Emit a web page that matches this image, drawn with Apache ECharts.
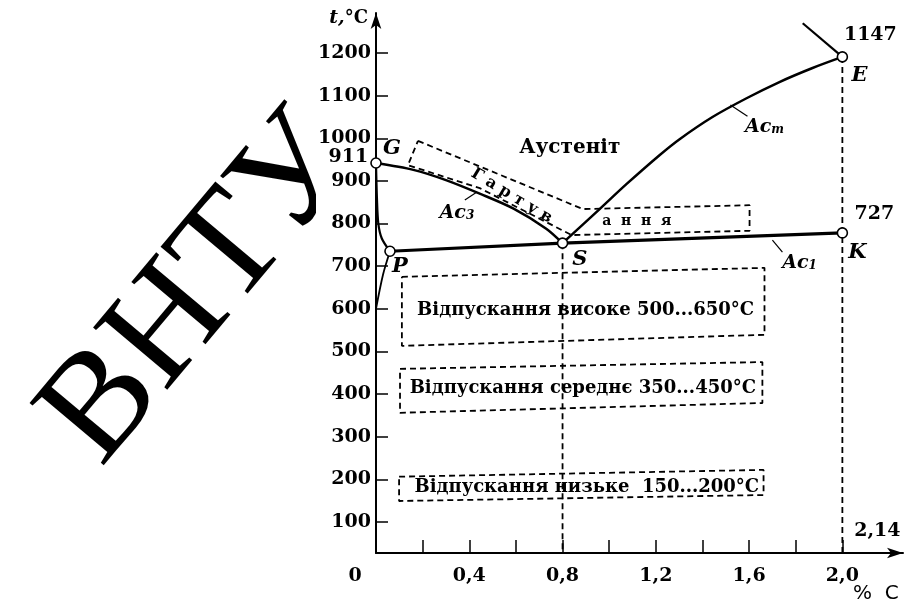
<!DOCTYPE html>
<html>
<head>
<meta charset="utf-8">
<script src="https://cdn.jsdelivr.net/npm/echarts@6/dist/echarts.min.js"></script>
<style>
  html, body { margin: 0; padding: 0; background: #fff; }
  #chart { width: 905px; height: 605px; }
</style>
</head>
<body>
<div id="chart"></div>
<script>
// scale of the scanned figure (x axis sits a bit above 0 °C)
const xMin = 0, xMax = 2.26;
const yMin = 27, yMax = 1294;
const yTicks = [100, 200, 300, 400, 500, 600, 700, 800, 900, 1000, 1100, 1200];
const xTicks = [0.2, 0.4, 0.6, 0.8, 1.0, 1.2, 1.4, 1.6, 1.8, 2.0];
const xLabels = [0, 0.4, 0.8, 1.2, 1.6, 2.0];

// phase lines [%C, t]
const lineGS = [[0, 942], [0.16, 926], [0.30, 902], [0.45, 869], [0.59, 835], [0.73, 788], [0.8, 754]];
const lineSE = [[0.8, 754], [0.959, 834], [1.075, 893], [1.217, 961], [1.302, 998], [1.443, 1050], [1.589, 1094], [1.730, 1132], [1.872, 1165], [2.0, 1191]];
const lineEC = [[2.0, 1191], [1.83, 1270]];
const linePSK = [[0.06, 735], [0.8, 754], [2.0, 778]];
const lineGP = [[0, 942], [0.004, 860], [0.01, 800], [0.025, 765], [0.06, 735]];
const linePQ = [[0.06, 735], [0.03, 680], [0, 600]];

// dashed helpers
const dropS = [[0.8, 754], [0.8, yMin]];
const dropE = [[2.0, 1191], [2.0, yMin]];
const zoneHard = [[0.18, 994], [0.887, 834], [1.602, 843], [1.602, 783], [0.839, 773], [0.445, 883], [0.137, 937], [0.18, 994]];
const zoneHigh = [[0.111, 675], [1.666, 696], [1.666, 539], [0.111, 513], [0.111, 675]];
const zoneMid = [[0.103, 459], [1.657, 475], [1.657, 379], [0.103, 356], [0.103, 459]];
const zoneLow = [[0.099, 206], [1.662, 222], [1.662, 163], [0.099, 149], [0.099, 206]];

// little leader strokes of Ac labels
const tickAc3 = [[0.381, 855], [0.433, 874]];
const tickAcm = [[1.520, 1078], [1.593, 1052]];
const tickAc1 = [[1.700, 761], [1.743, 733]];

// key points
const points = [['G', 0, 942], ['P', 0.06, 735], ['S', 0.8, 754], ['E', 2.0, 1191], ['K', 2.0, 778]];

// labels  [%C, t, text]
const letterNotes = [[0.069, 977, 'G'], [0.103, 700, 'P'], [0.874, 715, 'S'], [2.073, 1148, 'E'], [2.064, 733, 'K']];
const numNotes = [[2.12, 1242, '1147'], [2.137, 822, '727'], [2.15, 79, '2,14']];
const acNotes = [[0.347, 836, '3'], [1.666, 1038, 'm'], [1.816, 719, '1']];
const temperNotes = [
  [0.899, 597, 'Відпускання високе 500...650°C'],
  [0.887, 414, 'Відпускання середнє 350...450°C'],
  [0.904, 182, 'Відпускання низьке  150...200°C']
];
const phaseNote = [0.831, 977, 'Аустеніт'];
const hardNote1 = [0.582, 865, 'Г а р т у в'];
const hardNote2 = [1.118, 806, 'а  н  н  я'];

const serif = 'DejaVu Serif';

function solid(data, width, smooth) {
  return {
    type: 'line', data: data, smooth: smooth ? 0.3 : false, showSymbol: false, silent: true,
    lineStyle: { color: '#000', width: width }, z: 3
  };
}
function dashed(data) {
  return {
    type: 'line', data: data, showSymbol: false, silent: true,
    lineStyle: { color: '#000', width: 1.8, type: [6, 4] }, z: 2
  };
}
function textItems(list, style) {
  return list.map(function (n) {
    return { value: [n[0], n[1]], label: Object.assign({ formatter: n[2], color: '#000' }, style) };
  });
}

const chart = echarts.init(document.getElementById('chart'));

const option = {
  animation: false,
  backgroundColor: '#fff',
  grid: { left: 376, right: 2, top: 13, bottom: 52, outerBoundsMode: 'none' },
  graphic: [
    {
      type: 'text', z: -10, x: 200, y: 290, rotation: 50 * Math.PI / 180,
      style: { text: 'ВНТУ', font: 'normal 148px "Liberation Serif"', fill: '#000', align: 'center', verticalAlign: 'middle' }
    },
    { type: 'rect', z: -5, shape: { x: 316, y: 0, width: 600, height: 605 }, style: { fill: '#fff' } }
  ],
  xAxis: {
    type: 'value', min: xMin, max: xMax,
    name: '%  C', nameLocation: 'end', nameGap: -50, nameMoveOverlap: false,
    nameTextStyle: { fontFamily: 'DejaVu Sans', fontSize: 20, color: '#000', align: 'left', verticalAlign: 'top', padding: [31, 0, 0, 0] },
    axisLine: { lineStyle: { color: '#000', width: 2 }, symbol: ['none', 'arrow'], symbolSize: [8, 16] },
    axisTick: { inside: true, length: 13, lineStyle: { color: '#000', width: 1.5 }, customValues: xTicks },
    axisLabel: {
      customValues: xLabels, margin: 14, color: '#000',
      fontFamily: serif, fontWeight: 'bold', fontSize: 19,
      formatter: function (v) { return v === 0 ? '{o|0}' : v.toFixed(1).replace('.', ','); },
      rich: { o: { fontFamily: serif, fontWeight: 'bold', fontSize: 19, color: '#000', padding: [0, 42, 0, 0] } }
    },
    splitLine: { show: false }
  },
  yAxis: {
    type: 'value', min: yMin, max: yMax,
    name: '{t|t,}{c|°C}', nameLocation: 'end', nameGap: -15, nameMoveOverlap: false,
    nameTextStyle: {
      align: 'right', padding: [0, 8, 0, 0],
      rich: {
        t: { fontFamily: serif, fontStyle: 'italic', fontWeight: 'bold', fontSize: 19, color: '#000' },
        c: { fontFamily: serif, fontWeight: 'bold', fontSize: 18, color: '#000' }
      }
    },
    axisLine: { lineStyle: { color: '#000', width: 2 }, symbol: ['none', 'arrow'], symbolSize: [8, 16] },
    axisTick: { inside: true, length: 12, lineStyle: { color: '#000', width: 1.5 }, customValues: yTicks },
    axisLabel: {
      customValues: yTicks, margin: 5, color: '#000', fontFamily: serif, fontWeight: 'bold', fontSize: 19,
      formatter: function (v) { return String(v); }
    },
    splitLine: { show: false }
  },
  series: [
    solid(lineGS, 2.5, true),
    solid(lineSE, 2.5, true),
    solid(lineEC, 2.2, false),
    solid(linePSK, 3.2, false),
    solid(lineGP, 2.2, true),
    solid(linePQ, 1.8, true),
    dashed(dropS), dashed(dropE),
    dashed(zoneHard), dashed(zoneHigh), dashed(zoneMid), dashed(zoneLow),
    solid(tickAc3, 1.2, false), solid(tickAcm, 1.2, false), solid(tickAc1, 1.2, false),
    {
      type: 'scatter', silent: true, z: 5,
      symbol: 'circle', symbolSize: 10,
      itemStyle: { color: '#fff', borderColor: '#000', borderWidth: 1.6, opacity: 1 },
      data: points.map(function (p) {
        const item = { value: [p[1], p[2]] };
        if (p[0] === 'G') {
          item.label = { show: true, position: 'left', distance: 2, offset: [0, -6], formatter: '911',
            fontFamily: serif, fontWeight: 'bold', fontSize: 19, color: '#000' };
        }
        return item;
      })
    },
    {
      type: 'scatter', silent: true, z: 6, symbolSize: 0,
      itemStyle: { color: 'transparent', opacity: 1 },
      label: { show: true, position: 'inside', color: '#000' },
      data: []
        .concat(textItems(letterNotes, { fontFamily: serif, fontStyle: 'italic', fontWeight: 'bold', fontSize: 21 }))
        .concat(textItems(numNotes, { fontFamily: serif, fontWeight: 'bold', fontSize: 19 }))
        .concat(textItems(temperNotes, { fontFamily: serif, fontWeight: 'bold', fontSize: 18 }))
        .concat(textItems([phaseNote], { fontFamily: serif, fontWeight: 'bold', fontSize: 20 }))
        .concat(textItems([hardNote1], { fontFamily: serif, fontWeight: 'bold', fontSize: 16, rotate: -31 }))
        .concat(textItems([hardNote2], { fontFamily: serif, fontWeight: 'bold', fontSize: 14 }))
        .concat(acNotes.map(function (n) {
          return {
            value: [n[0], n[1]],
            label: {
              formatter: '{a|Ac}{s|' + n[2] + '}',
              rich: {
                a: { fontFamily: serif, fontStyle: 'italic', fontWeight: 'bold', fontSize: 19, lineHeight: 28, verticalAlign: 'bottom', color: '#000' },
                s: { fontFamily: serif, fontStyle: 'italic', fontWeight: 'bold', fontSize: 12, lineHeight: 12, verticalAlign: 'bottom', color: '#000' }
              }
            }
          };
        }))
    }
  ]
};

chart.setOption(option);
</script>
</body>
</html>
